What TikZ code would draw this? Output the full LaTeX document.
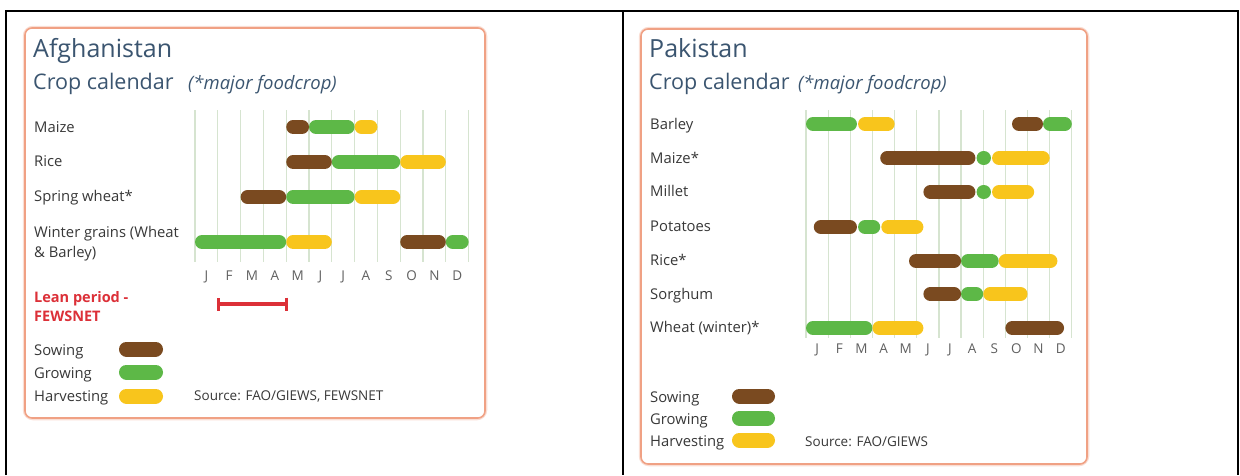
\documentclass[tikz,border=0pt]{standalone}
\usepackage{fontspec}
\setmainfont{Open Sans}
\usetikzlibrary{arrows.meta}

\definecolor{sowc}{HTML}{7A4A20}
\definecolor{growc}{HTML}{5DB847}
\definecolor{harvc}{HTML}{F8C51C}
\definecolor{panelc}{HTML}{F0A184}
\definecolor{titlec}{HTML}{3B5570}
\definecolor{textc}{HTML}{383838}
\definecolor{gridc}{HTML}{D6E4D0}
\definecolor{leanc}{HTML}{DC3038}

% one phase of a crop: colour, row, first month, last month
\newcommand{\cropbar}[4]{%
  \draw[line width=14pt, line cap=round, #1] ({#3*\mw+7},#2) -- ({#4*\mw-7},#2);}

\begin{document}
\begin{tikzpicture}[x=1pt, y=-1pt,
    panel/.style={draw=panelc, line width=1.6pt, rounded corners=7pt, fill=white},
    glow/.style={draw=panelc!35, line width=4.5pt, rounded corners=8pt},
    title/.style={anchor=base west, inner sep=0, text=titlec, font=\fontsize{25}{29}\selectfont},
    sub/.style={anchor=base west, inner sep=0, text=titlec, font=\fontsize{21.5}{25}\selectfont},
    note/.style={anchor=base west, inner sep=0, text=titlec, font=\fontsize{18.5}{21}\itshape},
    lbl/.style={anchor=base west, inner sep=0, text=textc, font=\fontsize{14.8}{20}\selectfont},
    month/.style={anchor=base, inner sep=0, text=textc!80, font=\fontsize{13.5}{15}\selectfont},
    src/.style={anchor=base west, inner sep=0, text=textc, font=\fontsize{13.5}{15}\selectfont},
    gridline/.style={gridc, line width=1.2pt},
    swatch/.style={line width=15pt, line cap=round}]
\useasboundingbox (0,0) rectangle (1240,475);

% table frame
\draw[line width=2.4pt] (6,475) -- (6,11) -- (1238,11) -- (1238,475);
\draw[line width=2.4pt] (623,11) -- (623,475);

% ---------------- Afghanistan
\draw[glow] (25,28) rectangle (485,418);
\draw[panel] (25,28) rectangle (485,418);
\node[title] (afgtitle) at (33,57) {Afghanistan};
\node[sub] (afgsub) at (33,89) {Crop calendar};
\node[note] (afgnote) at (188,89) {(*major foodcrop)};

\node[lbl] (afgmaize) at (34,132) {Maize};
\node[lbl] (afgrice) at (34,166) {Rice};
\node[lbl] (afgspring) at (34,201) {Spring wheat*};
\node[lbl, align=left] (afgwinter) at (34,257) {Winter grains (Wheat\\\& Barley)};

\begin{scope}[shift={(195,0)}]
  \def\mw{22.8}
  \foreach \k in {0,...,12}
    \draw[gridline] (\k*\mw,110) -- (\k*\mw,262);
  \foreach \m [count=\i] in {J,F,M,A,M,J,J,A,S,O,N,D}
    \node[month] (afgm\i) at ({(\i-0.5)*\mw},280) {\m};
  % maize
  \cropbar{sowc}{127}{4}{5}
  \cropbar{growc}{127}{5}{7}
  \cropbar{harvc}{127}{7}{8}
  % rice
  \cropbar{sowc}{162}{4}{6}
  \cropbar{growc}{162}{6}{9}
  \cropbar{harvc}{162}{9}{11}
  % spring wheat
  \cropbar{sowc}{197}{2}{4}
  \cropbar{growc}{197}{4}{7}
  \cropbar{harvc}{197}{7}{9}
  % winter grains
  \cropbar{growc}{242}{0}{4}
  \cropbar{harvc}{242}{4}{6}
  \cropbar{sowc}{242}{9}{11}
  \cropbar{growc}{242}{11}{12}
\end{scope}

\node[lbl, text=leanc, font=\fontsize{14.5}{19}\bfseries, align=left] (afglean) at (34,321) {Lean period -\\FEWSNET};
\coordinate (leanA) at (217,304);
\coordinate (leanB) at (288,304);
\draw[{Bar[width=13pt, line width=3pt]}-{Bar[width=13pt, line width=3pt]}, leanc, line width=3.6pt] (leanA) -- (leanB);

\node[lbl] (afgsow) at (34,355) {Sowing};
\node[lbl] (afggrow) at (34,378) {Growing};
\node[lbl] (afgharv) at (34,401) {Harvesting};
\draw[swatch, sowc] (126.5,349) -- (155.5,349);
\draw[swatch, growc] (126.5,372) -- (155.5,372);
\draw[swatch, harvc] (126.5,396) -- (155.5,396);
\node[src] (afgsrc) at (194,400.5) {Source: FAO/GIEWS, FEWSNET};

% ---------------- Pakistan
\draw[glow] (641,29) rectangle (1087,464);
\draw[panel] (641,29) rectangle (1087,464);
\node[title] (paktitle) at (649,57) {Pakistan};
\node[sub] (paksub) at (649,89) {Crop calendar};
\node[note] (paknote) at (798,89) {(*major foodcrop)};

\node[lbl] (pakbarley) at (650,129) {Barley};
\node[lbl] (pakmaize) at (650,163) {Maize*};
\node[lbl] (pakmillet) at (650,196) {Millet};
\node[lbl] (pakpotato) at (650,231) {Potatoes};
\node[lbl] (pakrice) at (650,265) {Rice*};
\node[lbl] (paksorghum) at (650,299) {Sorghum};
\node[lbl] (pakwheat) at (650,332) {Wheat (winter)*};

\begin{scope}[shift={(806,0)}]
  \def\mw{22.15}
  \foreach \k in {0,...,12}
    \draw[gridline] (\k*\mw,110) -- (\k*\mw,338);
  \foreach \m [count=\i] in {J,F,M,A,M,J,J,A,S,O,N,D}
    \node[month] (pakm\i) at ({(\i-0.5)*\mw},353) {\m};
  % barley
  \cropbar{growc}{124}{0}{2.3}
  \cropbar{harvc}{124}{2.35}{4}
  \cropbar{sowc}{124}{9.3}{10.7}
  \cropbar{growc}{124}{10.7}{12}
  % maize
  \cropbar{sowc}{158}{3.35}{7.65}
  \cropbar{growc}{158}{7.7}{8.35}
  \cropbar{harvc}{158}{8.4}{11}
  % millet
  \cropbar{sowc}{192}{5.3}{7.65}
  \cropbar{growc}{192}{7.7}{8.35}
  \cropbar{harvc}{192}{8.4}{10.3}
  % potatoes
  \cropbar{sowc}{227}{0.35}{2.3}
  \cropbar{growc}{227}{2.35}{3.35}
  \cropbar{harvc}{227}{3.4}{5.3}
  % rice
  \cropbar{sowc}{261}{4.65}{7}
  \cropbar{growc}{261}{7}{8.7}
  \cropbar{harvc}{261}{8.7}{11.35}
  % sorghum
  \cropbar{sowc}{294}{5.3}{7}
  \cropbar{growc}{294}{7}{8}
  \cropbar{harvc}{294}{8}{10}
  % wheat (winter)
  \cropbar{growc}{328}{0}{3}
  \cropbar{harvc}{328}{3}{5.3}
  \cropbar{sowc}{328}{9}{11.65}
\end{scope}

\node[lbl] (paksow) at (650,402) {Sowing};
\node[lbl] (pakgrow) at (650,424.5) {Growing};
\node[lbl] (pakharv) at (650,446) {Harvesting};
\draw[swatch, sowc] (739.5,396) -- (767.5,396);
\draw[swatch, growc] (739.5,418) -- (767.5,418);
\draw[swatch, harvc] (739.5,440) -- (767.5,440);
\node[src] (paksrc) at (805,446) {Source: FAO/GIEWS};
\end{tikzpicture}
\end{document}
